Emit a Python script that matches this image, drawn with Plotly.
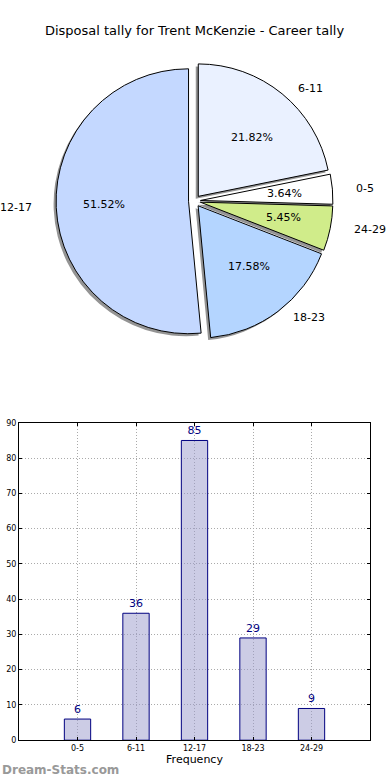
import math
import plotly.graph_objects as go

title_text = "Disposal tally for Trent McKenzie - Career tally"

# Pie (order as drawn, clockwise from 12 o'clock)
pie_labels = ["6-11", "0-5", "24-29", "18-23", "12-17"]
pie_values = [36, 6, 9, 29, 85]
pie_colors = ["#eaf1ff", "#ffffff", "#d0ec8a", "#b4d5ff", "#c4d8ff"]

# Bar chart
bar_categories = ["0-5", "6-11", "12-17", "18-23", "24-29"]
bar_values = [6, 36, 85, 29, 9]
y_ticks = [0, 10, 20, 30, 40, 50, 60, 70, 80, 90]

REF_W, REF_H = 390, 780      # layout designed in these pixel units
W, H = 390, 785              # figure size (captured view is slightly taller)
FONT = "DejaVu Sans"

def px(x):
    return x / REF_W

def py(y):
    return 1 - y / REF_H

# pie geometry (reference pixels)
cx, cy, r, pull = 194.5, 198.0, 134.0, 0.045
rx_txt, ry_txt = 140.0, 128.0   # text placement radii (reference pie is slightly oval)
half = r * (1 + pull)

def dom(dx=0.0, dy=0.0):
    hy = half * REF_H / H
    return dict(x=[px(cx - half + dx), px(cx + half + dx)],
                y=[py(cy + dy + hy), py(cy + dy - hy)])

fig = go.Figure()

# shadow
fig.add_trace(go.Pie(
    labels=pie_labels, values=pie_values, sort=False, direction="clockwise",
    pull=[pull] * len(pie_values), domain=dom(-2.5, 2.5),
    marker=dict(colors=["rgba(0,0,0,0.42)"] * len(pie_values),
                line=dict(width=0)),
    textinfo="none", hoverinfo="skip", showlegend=False,
))
# main pie
fig.add_trace(go.Pie(
    labels=pie_labels, values=pie_values, sort=False, direction="clockwise",
    pull=[pull] * len(pie_values), domain=dom(),
    marker=dict(colors=pie_colors, line=dict(color="#000000", width=1)),
    textinfo="none", showlegend=False,
))

# percentage / label text placed like matplotlib (pctdistance 0.6, labeldistance 1.1)
annotations = []
total = sum(pie_values)
start = 90.0
for lab, val in zip(pie_labels, pie_values):
    span = 360.0 * val / total
    mid = math.radians(start - span / 2)
    start -= span
    c, s = math.cos(mid), math.sin(mid)
    ox = cx + pull * rx_txt * c
    oy = cy - pull * ry_txt * s
    annotations.append(dict(
        text=f"{100 * val / total:.2f}%",
        x=px(ox + 0.6 * rx_txt * c), y=py(oy - 0.6 * ry_txt * s),
        xref="paper", yref="paper", xanchor="center", yanchor="middle",
        showarrow=False, font=dict(family=FONT, size=11, color="#000000"),
    ))
    annotations.append(dict(
        text=lab, x=px(ox + 1.1 * rx_txt * c), y=py(oy - 1.1 * ry_txt * s),
        xref="paper", yref="paper",
        xanchor="left" if c > 0 else "right", yanchor="middle",
        showarrow=False, font=dict(family=FONT, size=11, color="#000000"),
    ))

annotations.append(dict(
    text="<b>Dream-Stats.com</b>", x=0, xref="paper", xanchor="left",
    y=py(770), yref="paper", yanchor="middle", showarrow=False,
    font=dict(family=FONT, size=12, color="#999999"),
))

fig.add_trace(go.Bar(
    x=bar_categories, y=bar_values, width=0.45,
    marker=dict(color="rgba(153,153,204,0.5)", line=dict(color="#000080", width=1)),
    text=[str(v) for v in bar_values], textposition="outside",
    textfont=dict(family=FONT, size=11, color="#000080"),
    cliponaxis=False, showlegend=False, xaxis="x", yaxis="y",
))

grid = dict(showgrid=True, gridcolor="#aaaaaa", griddash="1px,2px", gridwidth=1)

fig.update_layout(
    width=W, height=H,
    margin=dict(l=0, r=0, t=0, b=0),
    paper_bgcolor="white", plot_bgcolor="rgba(0,0,0,0)",
    font=dict(family=FONT, color="#000000"),
    title=dict(text=title_text, x=px(194.5), xanchor="center", y=py(30),
               yanchor="middle", font=dict(family=FONT, size=13, color="#000000")),
    xaxis=dict(
        domain=[px(19), px(370)], type="category", range=[-1, 5],
        categoryorder="array", categoryarray=bar_categories,
        showline=True, linecolor="#000000", linewidth=1, mirror="allticks",
        ticks="inside", ticklen=3, tickcolor="#000000",
        tickfont=dict(family=FONT, size=8, color="#000000"),
        title=dict(text="Frequency", font=dict(family=FONT, size=11), standoff=3),
        zeroline=False, fixedrange=True, **grid,
    ),
    yaxis=dict(
        domain=[py(740), py(421)], range=[0, 90], tickvals=y_ticks,
        showline=True, linecolor="#000000", linewidth=1, mirror="allticks",
        ticks="inside", ticklen=3, tickcolor="#000000",
        tickfont=dict(family=FONT, size=8, color="#000000"),
        zeroline=False, fixedrange=True, **grid,
    ),
    annotations=annotations,
)

fig.write_html(
    "out.html",
    config={"displayModeBar": False, "staticPlot": True},
    post_script=("document.documentElement.style.margin='0';"
                 "document.body.style.margin='0';"
                 "document.documentElement.style.overflow='hidden';"
                 "document.body.style.overflow='hidden';"),
)
